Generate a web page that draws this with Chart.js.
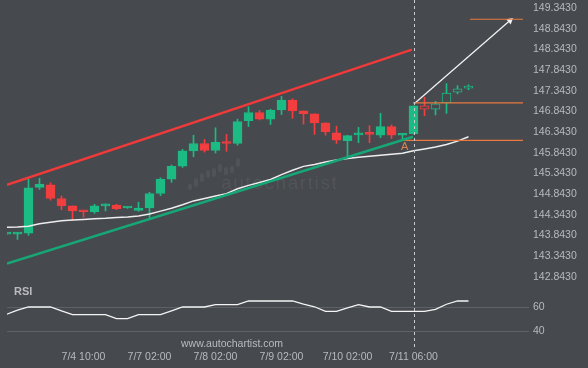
<!DOCTYPE html>
<html><head><meta charset="utf-8">
<script src="https://cdn.jsdelivr.net/npm/chart.js@4.4.1/dist/chart.umd.min.js"></script>
<style>
html,body{margin:0;padding:0;background:#46494e;}
#wrap{position:relative;width:588px;height:368px;overflow:hidden;background:#46494e;font-family:"Liberation Sans",Arial,sans-serif;}
canvas{position:absolute;left:0;}
#c1{top:0;}
#c2{top:290px;}
.t{position:absolute;white-space:nowrap;line-height:1;}
.wb{position:absolute;width:4px;border-radius:2px;background:rgba(255,255,255,0.06);}
</style></head><body>
<div id="wrap">
<div class="wb" style="left:188px;top:184px;height:6px"></div>
<div class="wb" style="left:194px;top:178px;height:9px"></div>
<div class="wb" style="left:200px;top:173px;height:9px"></div>
<div class="wb" style="left:206px;top:170px;height:8px"></div>
<div class="wb" style="left:212px;top:168px;height:9px"></div>
<div class="wb" style="left:218px;top:164px;height:8px"></div>
<div class="wb" style="left:224px;top:167px;height:8px"></div>
<div class="wb" style="left:230px;top:166px;height:7px"></div>
<div class="wb" style="left:236px;top:158px;height:9px"></div>
<div class="t" style="left:221px;top:173px;font-size:19px;color:rgba(255,255,255,0.07);letter-spacing:1.6px;">autochartist</div>
<canvas id="c1" width="588" height="290"></canvas>
<canvas id="c2" width="588" height="78"></canvas>
<div class="t" style="left:14px;top:286px;font-size:11px;font-weight:bold;color:#b9bbbe;">RSI</div>
<div class="t" style="left:181px;top:338px;font-size:10.5px;color:#b9bbbe;">www.autochartist.com</div>
<div class="t" style="left:401px;top:141px;font-size:11px;color:#de8450;">A</div>
</div>
<script>
// ---- data ----
const opens  = [143.88,143.88,143.90,145.01,145.07,144.74,144.56,144.44,144.42,144.56,144.58,144.51,144.45,144.51,144.86,145.21,145.52,145.89,146.07,145.90,146.10,146.07,146.62,146.82,146.66,146.88,147.12,146.86,146.79,146.57,146.33,146.14,146.28,146.31,146.27,146.48,146.27,146.31,146.98,146.90,147.05,147.31,147.41];
const highs  = [143.92,143.91,145.21,145.23,145.12,144.80,144.56,144.44,144.60,144.61,144.60,144.53,144.65,144.89,145.24,145.55,145.93,146.27,146.17,146.45,146.29,146.66,146.96,146.87,146.90,147.21,147.15,146.86,146.79,146.57,146.49,146.27,146.46,146.50,146.80,146.52,146.30,146.98,147.19,147.09,147.52,147.47,147.49];
const lows   = [143.86,143.75,143.85,144.96,144.70,144.47,144.21,144.29,144.38,144.44,144.47,144.50,144.43,144.25,144.81,145.13,145.49,145.75,145.86,145.84,145.88,146.03,146.48,146.64,146.53,146.77,146.68,146.54,146.29,146.27,146.07,145.76,146.09,146.09,146.21,146.19,146.14,146.30,146.74,146.76,146.80,147.27,147.37];
const closes = [143.90,143.90,145.00,145.08,144.74,144.56,144.44,144.42,144.56,144.60,144.49,144.52,144.51,144.86,145.21,145.52,145.89,146.07,145.90,146.10,146.07,146.60,146.82,146.66,146.88,147.12,146.86,146.79,146.57,146.35,146.15,146.26,146.30,146.29,146.48,146.27,146.29,146.98,146.90,147.03,147.29,147.39,147.45];
const movingAvg = [144.047,144.051,144.07,144.129,144.164,144.20,144.223,144.235,144.251,144.263,144.282,144.294,144.317,144.364,144.435,144.505,144.588,144.682,144.74,144.799,144.858,144.976,145.058,145.128,145.199,145.317,145.422,145.517,145.564,145.622,145.669,145.705,145.74,145.763,145.787,145.811,145.834,145.893,145.94,145.987,146.046,146.128,146.234];
const rsi = [53.9,57.3,60,60,60,56.8,53.7,53.7,53.7,53.7,50.3,50.3,53.7,53.7,53.7,56.8,60,60,60,62,62,62,65,65,65,65,65,62.3,60.2,56.4,56.4,59.3,62,60,60,56.4,56.4,56.4,56.4,58,62.3,65,65];
const resistanceLine = [[0.045,145.07],[36.86,148.34]];
const supportLine    = [[0.045,143.165],[36.95,146.234]];
const levelUpper  = [[36.95,147.052],[46.95,147.052]];
const levelLower  = [[35.95,146.145],[46.95,146.145]];
const targetLevel = [[42.14,149.075],[46.95,149.075]];
const forecastArrow = [[37.14,147.052],[45.77,149.044]];
const hollowFrom = 38;
const markerIndex = 37;
const priceTicks = [142.843,143.343,143.843,144.343,144.843,145.343,145.843,146.343,146.843,147.343,147.843,148.343,148.843,149.343];
const rsiTicks = [40,60];
const xTickIdx = [7,13,19,25,31,37];
const xTickLabels = ['7/4 10:00','7/7 02:00','7/8 02:00','7/9 02:00','7/10 02:00','7/11 06:00'];

// ---- styling ----
const BG = '#46494e', GREEN = '#1dbb84', RED = '#f23e3e', TXT = '#b8babd';
const X_MIN = 0.045, X_MAX = 47.5;
const FONT = {family:'"Liberation Sans", Arial, sans-serif', size:10.5};
const idx = opens.map((_,i)=>i);
const colorOf = i => closes[i] >= opens[i] ? GREEN : RED;
const pts = arr => arr.map(p=>({x:p[0],y:p[1]}));

const markerPlugin = (y0fn,y1fn) => ({
  id:'marker',
  afterDatasetsDraw(chart){
    const x = Math.round(chart.scales.x.getPixelForValue(markerIndex))+0.5;
    const c = chart.ctx; c.save();
    c.strokeStyle='#c9cbce'; c.lineWidth=1; c.setLineDash([3,3]);
    c.beginPath(); c.moveTo(x,y0fn(chart)); c.lineTo(x,y1fn(chart)); c.stroke(); c.restore();
  }
});

const xScale = (show) => ({
  type:'linear', min:X_MIN, max:X_MAX, display:show, offset:false,
  grid:{display:false, drawTicks:false, offset:false}, border:{display:false},
  afterBuildTicks(s){ s.ticks = xTickIdx.map(v=>({value:v})); },
  afterFit(s){ if(show){ s.height = 27; } s.paddingLeft=0; s.paddingRight=0; },
  ticks:{color:TXT, font:FONT, padding:10, maxRotation:0, autoSkip:false,
    callback:(v)=>{ const k=xTickIdx.indexOf(v); return k>=0?xTickLabels[k]:''; }}
});

new Chart(document.getElementById('c1'), {
  type:'bar',
  data:{datasets:[
    {type:'line', data:pts(resistanceLine), borderColor:'#f03a3a', borderWidth:2.5, pointRadius:0, order:0},
    {type:'line', data:pts(supportLine), borderColor:'#17a777', borderWidth:2.5, pointRadius:0, order:0},
    {type:'line', data:pts(levelUpper), borderColor:'#e9793f', borderWidth:1.2, pointRadius:0, order:0},
    {type:'line', data:pts(levelLower), borderColor:'#e9793f', borderWidth:1.2, pointRadius:0, order:0},
    {type:'line', data:pts(targetLevel), borderColor:'#e9793f', borderWidth:1.2, pointRadius:0, order:0},
    {type:'line', data:pts(forecastArrow), borderColor:'#f2f2f2', borderWidth:1.3, order:0,
      pointRadius:[0,4], pointStyle:'triangle', pointBackgroundColor:'#f2f2f2', pointBorderWidth:0,
      pointRotation:(ctx)=>{ const ch=ctx.chart, xs=ch.scales.x, ys=ch.scales.y;
        const dx=xs.getPixelForValue(forecastArrow[1][0])-xs.getPixelForValue(forecastArrow[0][0]);
        const dy=ys.getPixelForValue(forecastArrow[1][1])-ys.getPixelForValue(forecastArrow[0][1]);
        return Math.atan2(dy,dx)*180/Math.PI+90; }},
    {type:'line', data:idx.map(i=>({x:i,y:movingAvg[i]})), borderColor:'#eeeeee', borderWidth:1.5, pointRadius:0, order:1},
    {type:'bar', grouped:false, order:2, barThickness:9, minBarLength:2, borderWidth:1, borderSkipped:false,
      data:idx.map(i=>({x:i,y:[opens[i],closes[i]]})),
      backgroundColor:idx.map(i=> i>=hollowFrom ? BG : colorOf(i)),
      borderColor:idx.map(colorOf)},
    {type:'bar', grouped:false, order:3, barThickness:1, borderWidth:0,
      data:idx.map(i=>({x:i,y:[lows[i],highs[i]]})),
      backgroundColor:idx.map(colorOf)}
  ]},
  options:{
    responsive:false, animation:false, events:[],
    layout:{padding:{left:7,right:0,top:0,bottom:0}},
    plugins:{legend:{display:false}, tooltip:{enabled:false}},
    scales:{
      x:xScale(false),
      y:{position:'right', min:142.624, max:149.444,
        grid:{display:false, drawTicks:false}, border:{display:false},
        afterBuildTicks(s){ s.ticks = priceTicks.map(v=>({value:v})); },
        afterFit(s){ s.width=59; s.paddingTop=0; s.paddingBottom=0; },
        ticks:{color:TXT, font:FONT, padding:4, callback:v=>Number(v).toFixed(4)}}
    }
  },
  plugins:[markerPlugin(()=>0, ch=>ch.height)]
});

new Chart(document.getElementById('c2'), {
  type:'line',
  data:{datasets:[
    {data:idx.map(i=>({x:i,y:rsi[i]})), borderColor:'#f4f4f4', borderWidth:1.3, pointRadius:0}
  ]},
  options:{
    responsive:false, animation:false, events:[],
    layout:{padding:{left:7,right:0,top:2,bottom:0}},
    plugins:{legend:{display:false}, tooltip:{enabled:false}},
    scales:{
      x:xScale(true),
      y:{position:'right', min:31.67, max:72.5,
        grid:{display:true, drawTicks:false, color:'#5d6065', lineWidth:1}, border:{display:false},
        afterBuildTicks(s){ s.ticks = rsiTicks.map(v=>({value:v})); },
        afterFit(s){ s.width=59; s.paddingTop=0; s.paddingBottom=0; },
        ticks:{color:TXT, font:FONT, padding:4}}
    }
  },
  plugins:[markerPlugin(()=>0, ch=>ch.chartArea.bottom+9)]
});
</script>
</body></html>
